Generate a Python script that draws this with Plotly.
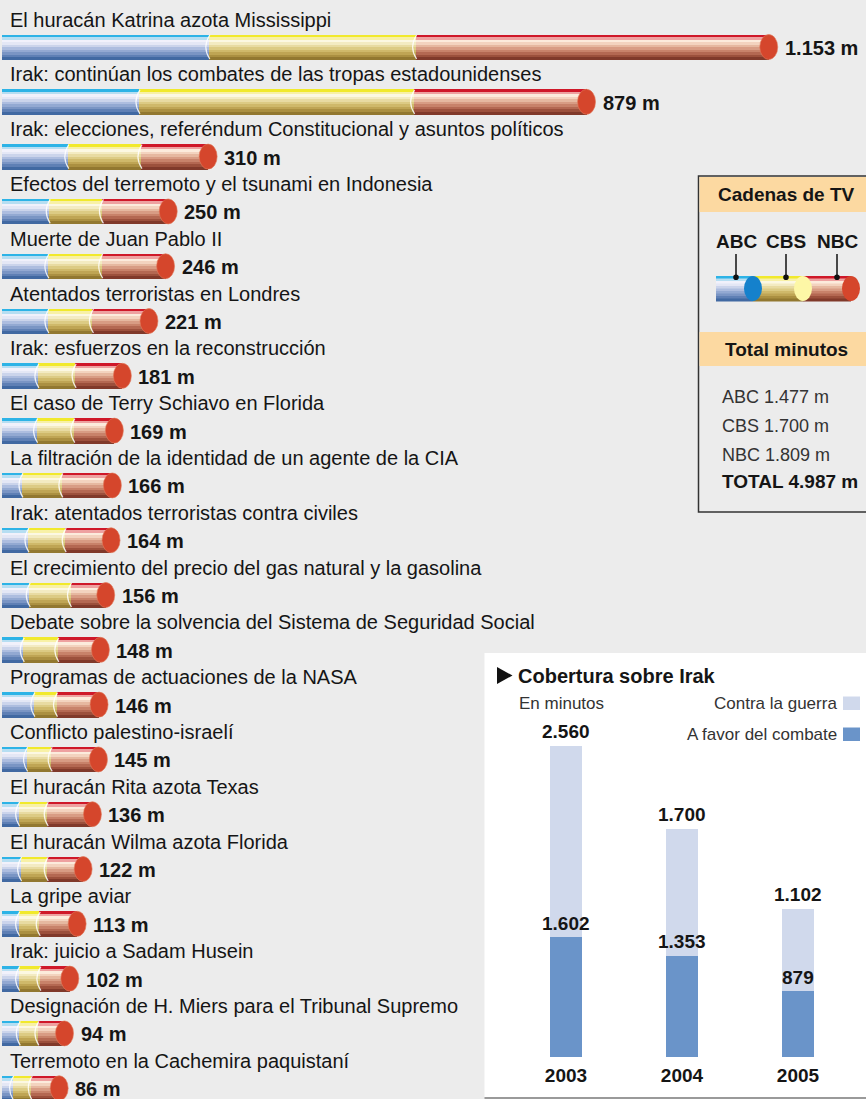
import plotly.graph_objects as go

# ---------------- data ----------------
stories = [
    "El huracán Katrina azota Mississippi",
    "Irak: continúan los combates de las tropas estadounidenses",
    "Irak: elecciones, referéndum Constitucional y asuntos políticos",
    "Efectos del terremoto y el tsunami en Indonesia",
    "Muerte de Juan Pablo II",
    "Atentados terroristas en Londres",
    "Irak: esfuerzos en la reconstrucción",
    "El caso de Terry Schiavo en Florida",
    "La filtración de la identidad de un agente de la CIA",
    "Irak: atentados terroristas contra civiles",
    "El crecimiento del precio del gas natural y la gasolina",
    "Debate sobre la solvencia del Sistema de Seguridad Social",
    "Programas de actuaciones de la NASA",
    "Conflicto palestino-israelí",
    "El huracán Rita azota Texas",
    "El huracán Wilma azota Florida",
    "La gripe aviar",
    "Irak: juicio a Sadam Husein",
    "Designación de H. Miers para el Tribunal Supremo",
    "Terremoto en la Cachemira paquistaní",
]
totals = [1153, 879, 310, 250, 246, 221, 181, 169, 166, 164, 156, 148, 146, 145, 136, 122, 113, 102, 94, 86]
abc = [311, 206, 99, 71, 69, 69, 54, 52, 30, 39, 41, 32, 48, 37, 25, 28, 25, 25, 26, 16]
cbs = [311, 413, 110, 80, 81, 67, 56, 56, 60, 56, 62, 52, 34, 37, 43, 40, 31, 32, 28, 28]
nbc = [531, 260, 101, 99, 96, 85, 71, 61, 76, 69, 53, 64, 64, 71, 68, 54, 57, 45, 40, 42]

networks = ["ABC", "CBS", "NBC"]
network_totals = [1477, 1700, 1809]
grand_total = 4987

years = ["2003", "2004", "2005"]
favor = [1602, 1353, 879]      # A favor del combate
contra = [2560, 1700, 1102]    # Contra la guerra

# ---------------- styling ----------------
W, H = 866, 1099
BG = "#ececec"
FONT = "Liberation Sans, Arial, sans-serif"
TXT = "#151515"

grad = {
    "ABC": ["#2db3e6", "#b6def2", "#f1f1fb", "#e4e7f5", "#cbd4eb", "#adbddf",
            "#93a9d2", "#7a95c4", "#5f80b5", "#4169a2"],
    "CBS": ["#f1e92c", "#f8f1a6", "#fcf8e2", "#f3ebc2", "#e8dba2", "#dccb84",
            "#cfb96a", "#bfa554", "#ab9041", "#927830"],
    "NBC": ["#cf1829", "#eea1a0", "#fcebdc", "#f3d3bf", "#e6b8a0", "#d89c84",
            "#c8826a", "#b46852", "#9c503c", "#80392a"],
}
cap_colors = {"ABC": "#1581cc", "CBS": "#fdf7a6", "NBC": "#d5462c"}

ROW0, ROWH = 47.0, 54.8
PX_PER_MIN, X0PX = 0.665, 2.0
BAR_W = 25.0 / ROWH
NS = len(grad["ABC"])


def px(x):
    return x / W


def py(y):
    return 1 - y / H


def fmt(v):
    return f"{v:,}".replace(",", ".")


fig = go.Figure()

rows = list(range(len(stories)))
lengths = {"ABC": abc, "CBS": cbs, "NBC": nbc}
starts = {
    "ABC": [0] * len(abc),
    "CBS": list(abc),
    "NBC": [a + c for a, c in zip(abc, cbs)],
}

for net in networks:
    for j, col in enumerate(grad[net]):
        fig.add_trace(go.Bar(
            orientation="h", y=rows, x=lengths[net], base=starts[net],
            width=BAR_W / NS + 0.008, offset=-BAR_W / 2 + j * BAR_W / NS,
            marker=dict(color=col, line=dict(width=0)),
            hoverinfo="skip", showlegend=False, xaxis="x", yaxis="y"))

shapes = []
annotations = []

# segment joints, caps at bar ends + labels
for i, (name, tot) in enumerate(zip(stories, totals)):
    for joint in (starts["CBS"][i], starts["NBC"][i]):
        shapes.append(dict(
            type="path", xref="x", yref="y", xsizemode="pixel", ysizemode="pixel",
            xanchor=joint, yanchor=i, path="M 1,12 Q -7,0 1,-12",
            line=dict(color="rgba(255,255,255,0.85)", width=1.2)))
    end = abc[i] + cbs[i] + nbc[i]
    shapes.append(dict(
        type="circle", xref="x", yref="y", xsizemode="pixel", ysizemode="pixel",
        xanchor=end, yanchor=i, x0=-9, x1=9, y0=-12.5, y1=12.5,
        fillcolor=cap_colors["NBC"], line=dict(color="#e07a5c", width=0.6)))
    annotations.append(dict(
        xref="paper", yref="y", x=px(8), y=i - 0.5, xanchor="left", yanchor="middle",
        text=name, showarrow=False, font=dict(family=FONT, size=20, color=TXT)))
    annotations.append(dict(
        xref="x", yref="y", x=end, y=i, xanchor="left", yanchor="middle",
        xshift=14, yshift=-1, text=f"<b>{fmt(tot)} m</b>", showarrow=False,
        font=dict(family=FONT, size=20, color=TXT)))

# ---------------- legend box: Cadenas de TV ----------------
shapes.append(dict(type="rect", xref="paper", yref="paper", x0=px(698.5), x1=px(875),
                   y0=py(176), y1=py(512), line=dict(color="#333333", width=1.5),
                   fillcolor=BG, layer="below"))
shapes.append(dict(type="rect", xref="paper", yref="paper", x0=px(699.5), x1=px(866),
                   y0=py(177), y1=py(212), line=dict(width=0), fillcolor="#fcd9a1", layer="below"))
shapes.append(dict(type="rect", xref="paper", yref="paper", x0=px(699.5), x1=px(866),
                   y0=py(332), y1=py(366), line=dict(width=0), fillcolor="#fcd9a1", layer="below"))
annotations.append(dict(xref="paper", yref="paper", x=px(786), y=py(194), text="<b>Cadenas de TV</b>",
                        showarrow=False, xanchor="center", yanchor="middle",
                        font=dict(family=FONT, size=19, color=TXT)))
annotations.append(dict(xref="paper", yref="paper", x=px(786), y=py(349), text="<b>Total minutos</b>",
                        showarrow=False, xanchor="center", yanchor="middle",
                        font=dict(family=FONT, size=19, color=TXT)))

leg_left = [716, 753, 803]
leg_cap = [753, 803, 851]
leg_lbl = [736, 786, 837]
cy0, cy1 = 276, 301
for k, net in enumerate(networks):
    for j, col in enumerate(grad[net]):
        t = cy0 + j * (cy1 - cy0) / NS
        b = cy0 + (j + 1) * (cy1 - cy0) / NS + 0.4
        shapes.append(dict(type="rect", xref="paper", yref="paper", x0=px(leg_left[k]),
                           x1=px(leg_cap[k]), y0=py(b), y1=py(t), line=dict(width=0), fillcolor=col))
for k, net in enumerate(networks):
    shapes.append(dict(type="circle", xref="paper", yref="paper", x0=px(leg_cap[k] - 9),
                       x1=px(leg_cap[k] + 9), y0=py(cy1), y1=py(cy0),
                       fillcolor=cap_colors[net], line=dict(width=0)))
    shapes.append(dict(type="line", xref="paper", yref="paper", x0=px(leg_lbl[k]), x1=px(leg_lbl[k]),
                       y0=py(254), y1=py(277), line=dict(color="#111111", width=1.5)))
    shapes.append(dict(type="circle", xref="paper", yref="paper", x0=px(leg_lbl[k] - 2.8),
                       x1=px(leg_lbl[k] + 2.8), y0=py(280), y1=py(274.4),
                       fillcolor="#111111", line=dict(width=0)))
    annotations.append(dict(xref="paper", yref="paper", x=px(leg_lbl[k]), y=py(242),
                            text=f"<b>{net}</b>", showarrow=False, xanchor="center", yanchor="middle",
                            font=dict(family=FONT, size=19, color=TXT)))

tot_y = [397, 426, 455]
for k, net in enumerate(networks):
    annotations.append(dict(xref="paper", yref="paper", x=px(720), y=py(tot_y[k]),
                            text=f"{net} {fmt(network_totals[k])} m", showarrow=False,
                            xanchor="left", yanchor="middle",
                            font=dict(family=FONT, size=18, color="#333333")))
annotations.append(dict(xref="paper", yref="paper", x=px(720), y=py(481),
                        text=f"<b>TOTAL {fmt(grand_total)} m</b>",
                        showarrow=False, xanchor="left", yanchor="middle",
                        font=dict(family=FONT, size=19, color=TXT)))

# ---------------- Irak panel ----------------
shapes.append(dict(type="rect", xref="paper", yref="paper", x0=px(484.5), x1=px(870),
                   y0=py(1097), y1=py(653), line=dict(width=0), fillcolor="#ffffff", layer="below"))
shapes.append(dict(type="line", xref="paper", yref="paper", x0=px(484.5), x1=px(870),
                   y0=py(1098), y1=py(1098), line=dict(color="#9a9a9a", width=2), layer="below"))
shapes.append(dict(type="path", xref="paper", yref="paper",
                   path=f"M {px(497)} {py(667)} L {px(512.5)} {py(675.5)} L {px(497)} {py(684)} Z",
                   fillcolor="#111111", line=dict(width=0)))
annotations.append(dict(xref="paper", yref="paper", x=px(516), y=py(676),
                        text="<b>Cobertura sobre Irak</b>", showarrow=False, xanchor="left",
                        yanchor="middle", font=dict(family=FONT, size=20, color=TXT)))
annotations.append(dict(xref="paper", yref="paper", x=px(517), y=py(703), text="En minutos",
                        showarrow=False, xanchor="left", yanchor="middle",
                        font=dict(family=FONT, size=17, color="#333333")))
LIGHT, DARK = "#d0d9ec", "#6a94c9"
for txt, yy, col in [("Contra la guerra", 703, LIGHT), ("A favor del combate", 734, DARK)]:
    annotations.append(dict(xref="paper", yref="paper", x=px(839), y=py(yy), text=txt,
                            showarrow=False, xanchor="right", yanchor="middle",
                            font=dict(family=FONT, size=17, color="#333333")))
    shapes.append(dict(type="rect", xref="paper", yref="paper", x0=px(843), x1=px(860),
                       y0=py(yy + 7), y1=py(yy - 6.5), fillcolor=col, line=dict(width=0)))

IW = 32 / 116
fig.add_trace(go.Bar(x=years, y=favor, width=IW, marker=dict(color=DARK, line=dict(width=0)),
                     hoverinfo="skip", showlegend=False, xaxis="x2", yaxis="y2"))
fig.add_trace(go.Bar(x=years, y=contra, base=favor, width=IW,
                     marker=dict(color=LIGHT, line=dict(width=0)),
                     hoverinfo="skip", showlegend=False, xaxis="x2", yaxis="y2"))
for k, (f, c) in enumerate(zip(favor, contra)):
    for val, top in [(c, f + c), (f, f)]:
        annotations.append(dict(xref="x2", yref="y2", x=k, y=top, yshift=14,
                                text=f"<b>{fmt(val)}</b>",
                                showarrow=False, xanchor="center", yanchor="middle",
                                font=dict(family=FONT, size=19, color=TXT)))

IRAK_PX_PER_MIN = 0.0748
fig.update_layout(
    width=W, height=H, margin=dict(l=0, r=0, t=0, b=0, pad=0), autosize=False,
    paper_bgcolor=BG, plot_bgcolor="rgba(0,0,0,0)", barmode="overlay", bargap=0,
    font=dict(family=FONT, color=TXT),
    xaxis=dict(domain=[0, 1], range=[-X0PX / PX_PER_MIN, (W - X0PX) / PX_PER_MIN],
               visible=False, fixedrange=True, automargin=False),
    yaxis=dict(domain=[0, 1], range=[(H - ROW0) / ROWH, -ROW0 / ROWH],
               visible=False, fixedrange=True, automargin=False),
    xaxis2=dict(domain=[px(508), px(856)], anchor="y2", type="category",
                categoryorder="array", categoryarray=years, range=[-0.5, 2.5],
                showgrid=False, zeroline=False, showline=False, ticks="",
                tickfont=dict(family=FONT, size=19, color=TXT, weight="bold"),
                ticklabelstandoff=5, fixedrange=True, automargin=False),
    yaxis2=dict(domain=[py(1057), py(700)], anchor="x2",
                range=[0, (1057 - 700) / IRAK_PX_PER_MIN], visible=False,
                fixedrange=True, automargin=False),
    shapes=shapes, annotations=annotations, showlegend=False,
)

fig.write_html("out.html")
